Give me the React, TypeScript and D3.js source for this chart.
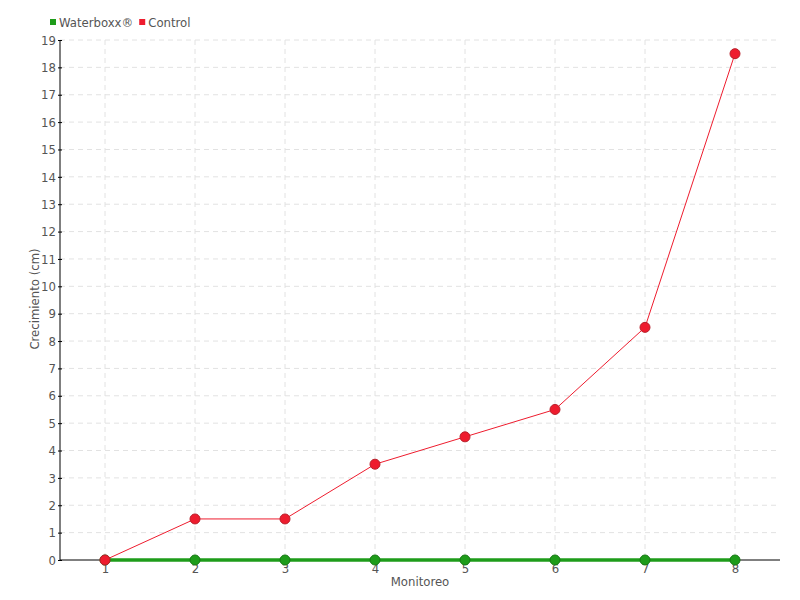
import React, { useEffect, useRef } from "react";
import * as d3 from "d3";

const monitoreo = ["1", "2", "3", "4", "5", "6", "7", "8"];
const waterboxx = [0, 0, 0, 0, 0, 0, 0, 0];
const control = [0, 1.5, 1.5, 3.5, 4.5, 5.5, 8.5, 18.5];
const yTicks = d3.range(0, 20);

const FONT = "'DejaVu Sans', sans-serif";

function txt(sel: any) {
    sel.attr("fill", "#555")
        .style("font-family", FONT)
        .style("font-stretch", "condensed")
        .style("font-size", "13px");
}

export default function App() {
    const ref = useRef<SVGSVGElement>(null);

    useEffect(() => {
        const svg = d3.select(ref.current);
        svg.selectAll("*").remove();

        const left = 60, right = 780, top = 40, bottom = 560;

        const x = d3.scalePoint().domain(monitoreo).range([left, right]).padding(0.5);
        const y = d3.scaleLinear().domain([0, 19]).range([bottom, top]);

        // grid
        const grid = svg.append("g")
            .attr("stroke", "#e2e2e2")
            .attr("stroke-dasharray", "5,4");
        grid.selectAll("line.h")
            .data(yTicks.slice(1))
            .join("line")
            .attr("x1", left).attr("x2", right)
            .attr("y1", d => y(d)).attr("y2", d => y(d));
        grid.selectAll("line.v")
            .data(monitoreo)
            .join("line")
            .attr("x1", d => x(d)!).attr("x2", d => x(d)!)
            .attr("y1", top).attr("y2", bottom);

        // y axis
        const yAxis = svg.append("g")
            .attr("transform", `translate(${left},0)`)
            .call(d3.axisLeft(y).tickValues(yTicks).tickSize(4).tickFormat(d3.format("d")));
        yAxis.select(".domain").attr("stroke", "#000").attr("d", `M0,${top}V${bottom}`);
        yAxis.selectAll(".tick line").attr("stroke", "#000").attr("x2", 2).attr("x1", -2);
        yAxis.selectAll(".tick text").attr("x", -4).call(txt);

        // x axis
        const xAxis = svg.append("g")
            .attr("transform", `translate(0,${bottom})`)
            .call(d3.axisBottom(x).tickSize(0));
        xAxis.select(".domain").attr("stroke", "#000").attr("d", `M${left},0H${right}`);
        xAxis.selectAll(".tick text").attr("y", 4).call(txt);

        // axis titles
        svg.append("text")
            .attr("x", (left + right) / 2)
            .attr("y", 586)
            .attr("text-anchor", "middle")
            .call(txt)
            .text("Monitoreo");
        svg.append("text")
            .attr("transform", `translate(39,${(top + bottom) / 2 - 1}) rotate(-90)`)
            .attr("text-anchor", "middle")
            .call(txt)
            .text("Crecimiento (cm)");

        const line = d3.line<number>()
            .x((_, i) => x(monitoreo[i])!)
            .y(d => y(d));

        const series = [
            { name: "Waterboxx®", values: waterboxx, color: "#1e9c1a", dark: "#187a15", width: 3.5 },
            { name: "Control", values: control, color: "#ee1c2e", dark: "#b8202b", width: 1 },
        ];

        for (const s of series) {
            svg.append("path")
                .datum(s.values)
                .attr("fill", "none")
                .attr("stroke", s.color)
                .attr("stroke-width", s.width)
                .attr("d", line);
            svg.append("g")
                .selectAll("circle")
                .data(s.values)
                .join("circle")
                .attr("cx", (_, i) => x(monitoreo[i])!)
                .attr("cy", d => y(d))
                .attr("r", 5)
                .attr("fill", s.color)
                .attr("stroke", s.dark)
                .attr("stroke-width", 1);
        }

        // legend
        const legend = svg.append("g").attr("transform", "translate(50,17)");
        let offset = 0;
        series.forEach(s => {
            const g = legend.append("g").attr("transform", `translate(${offset},0)`);
            g.append("rect").attr("x", 0).attr("y", 2).attr("width", 6).attr("height", 6).attr("fill", s.color);
            const t = g.append("text")
                .attr("x", 9).attr("y", 10)
                .call(txt)
                .text(s.name);
            offset += 9 + (t.node() as SVGTextElement).getComputedTextLength() + 6;
        });
    }, []);

    return (
        <svg ref={ref} width={800} height={600} style={{ position: "absolute", left: 0, top: 0, background: "#fff" }} />
    );
}
